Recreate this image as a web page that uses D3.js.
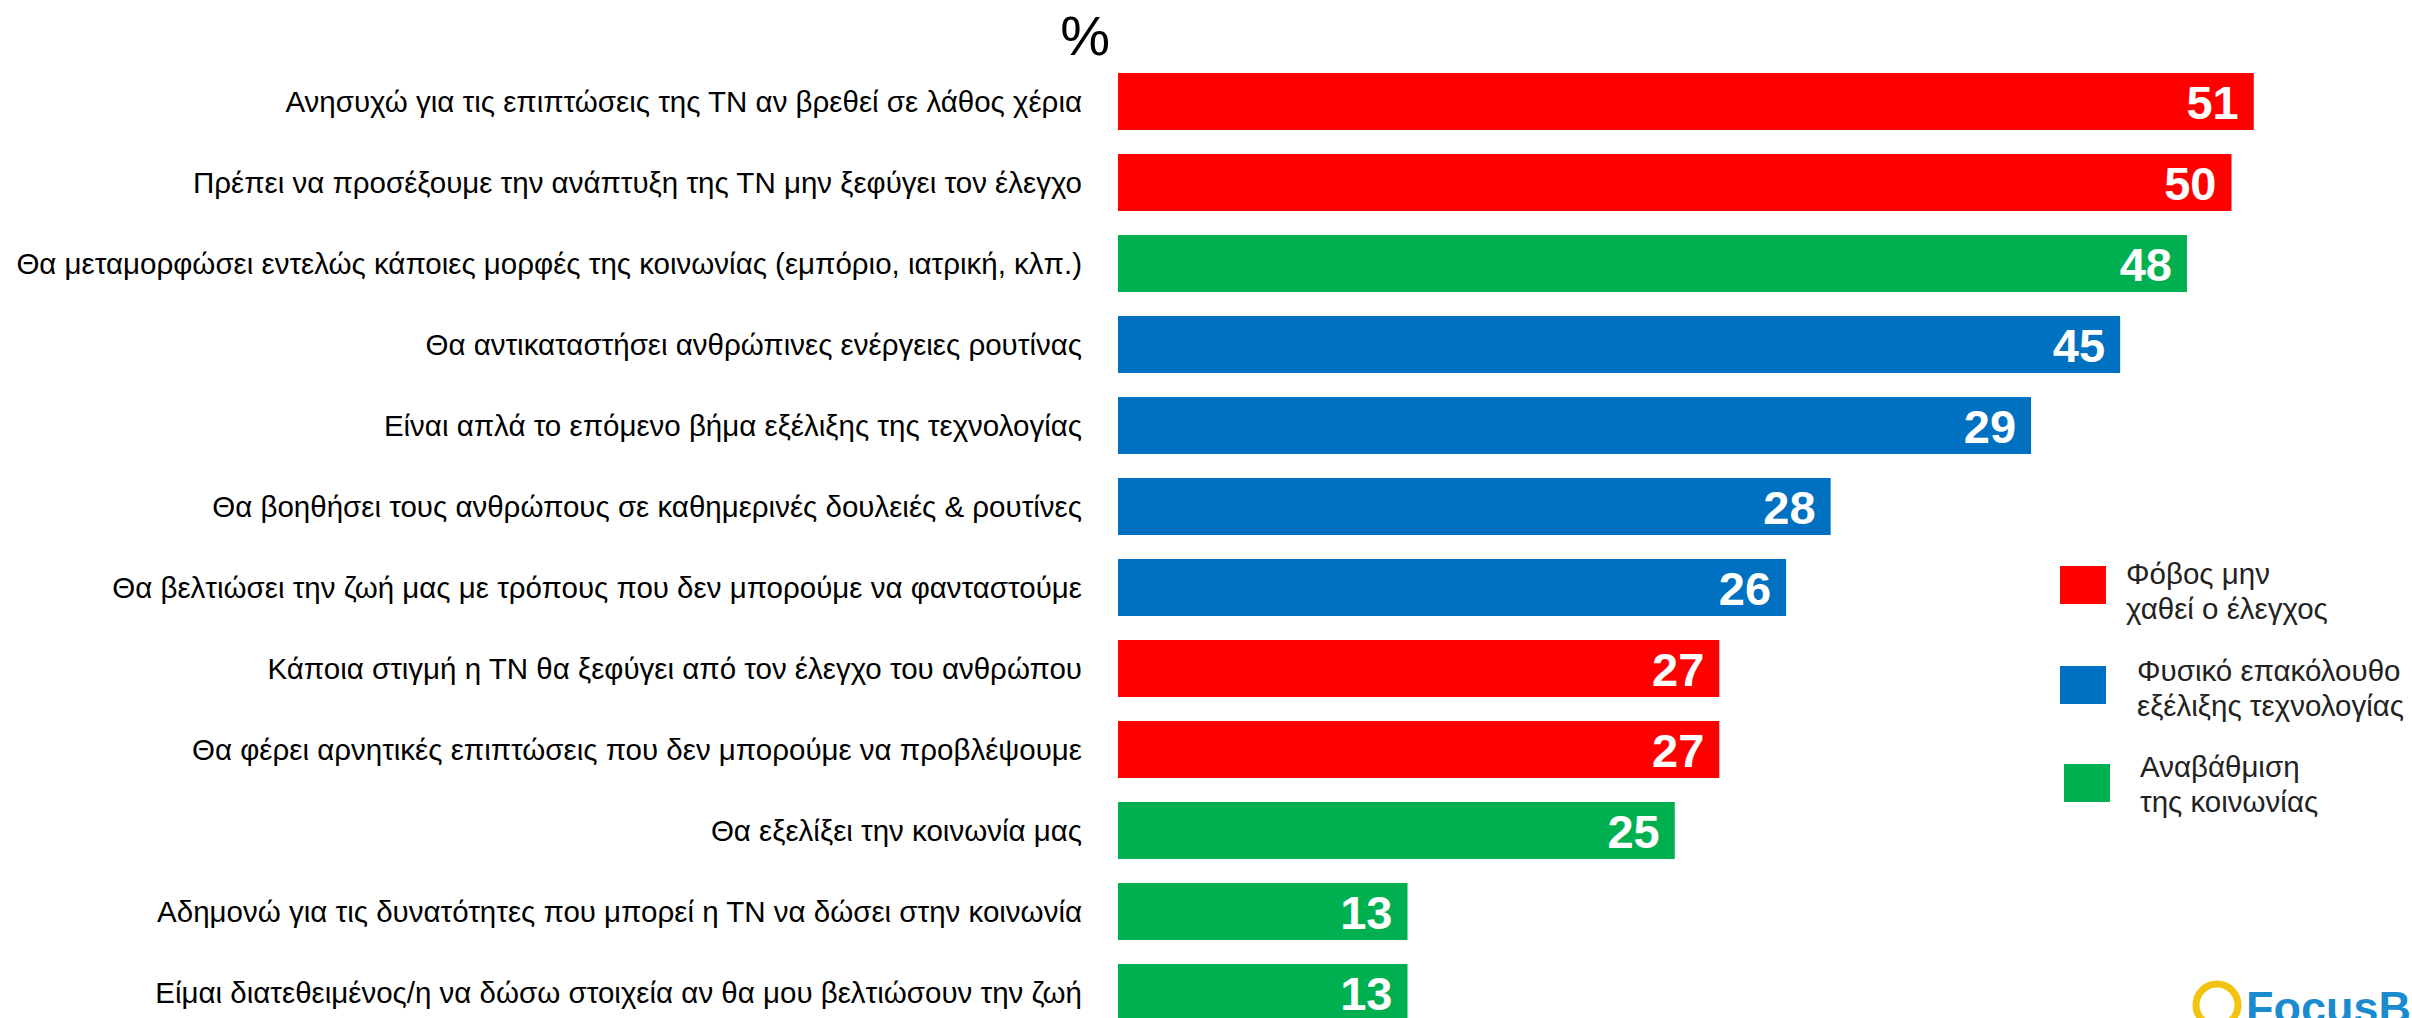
<!DOCTYPE html>
<html>
<head>
<meta charset="utf-8">
<script src="https://cdn.jsdelivr.net/npm/d3@7"></script>
<style>
  html, body { margin: 0; padding: 0; background: #fff; }
  svg { display: block; }
</style>
</head>
<body>
<svg id="chart" width="2412" height="1018"></svg>
<script>
// ---- data ----
const categories = [
  "Ανησυχώ για τις επιπτώσεις της ΤΝ αν βρεθεί σε λάθος χέρια",
  "Πρέπει να προσέξουμε την ανάπτυξη της ΤΝ μην ξεφύγει τον έλεγχο",
  "Θα μεταμορφώσει εντελώς κάποιες μορφές της κοινωνίας (εμπόριο, ιατρική, κλπ.)",
  "Θα αντικαταστήσει ανθρώπινες ενέργειες ρουτίνας",
  "Είναι απλά το επόμενο βήμα εξέλιξης της τεχνολογίας",
  "Θα βοηθήσει τους ανθρώπους σε καθημερινές δουλειές & ρουτίνες",
  "Θα βελτιώσει την ζωή μας με τρόπους που δεν μπορούμε να φανταστούμε",
  "Κάποια στιγμή η ΤΝ θα ξεφύγει από τον έλεγχο του ανθρώπου",
  "Θα φέρει αρνητικές επιπτώσεις που δεν μπορούμε να προβλέψουμε",
  "Θα εξελίξει την κοινωνία μας",
  "Αδημονώ για τις δυνατότητες που μπορεί η ΤΝ να δώσει στην κοινωνία",
  "Είμαι διατεθειμένος/η να δώσω στοιχεία αν θα μου βελτιώσουν την ζωή"
];
// bar lengths as drawn in the picture
const barLengths  = [51, 50, 48, 45, 41, 32, 30, 27, 27, 25, 13, 13];
// numbers printed on the bars
const valueLabels = [51, 50, 48, 45, 29, 28, 26, 27, 27, 25, 13, 13];
const groups = ["fear", "fear", "society", "tech", "tech", "tech", "tech", "fear", "fear", "society", "society", "society"];

const legendKeys  = ["fear", "tech", "society"];
const legendLines = [
  ["Φόβος μην", "χαθεί ο έλεγχος"],
  ["Φυσικό επακόλουθο", "εξέλιξης τεχνολογίας"],
  ["Αναβάθμιση", "της κοινωνίας"]
];
const unitLabel = "%";

// ---- drawing ----
const svg = d3.select("#chart");
const color = d3.scaleOrdinal().domain(["fear", "tech", "society"]).range(["#FF0000", "#0070C0", "#00B050"]);

const x = d3.scaleLinear().domain([0, 100]).range([1118, 1118 + 2227]);
const y = d3.scaleBand().domain(d3.range(categories.length))
  .range([61, 61 + 81 * categories.length])
  .paddingInner(24 / 81).paddingOuter(12 / 81);

const font = "'Liberation Sans', Arial, sans-serif";

svg.append("text")
  .attr("x", 1110).attr("y", 55)
  .attr("text-anchor", "end")
  .attr("font-family", font).attr("font-size", 56)
  .attr("fill", "#000")
  .text(unitLabel);

const rows = svg.append("g").selectAll("g").data(categories).join("g");

rows.append("rect")
  .attr("x", x(0))
  .attr("y", (d, i) => y(i))
  .attr("width", (d, i) => x(barLengths[i]) - x(0))
  .attr("height", y.bandwidth())
  .attr("fill", (d, i) => color(groups[i]));

rows.append("text")
  .attr("x", 1082)
  .attr("y", (d, i) => y(i) + y.bandwidth() / 2 + 10)
  .attr("text-anchor", "end")
  .attr("font-family", font).attr("font-size", 29.5)
  .attr("fill", "#000")
  .text(d => d);

rows.append("text")
  .attr("x", (d, i) => x(barLengths[i]) - 15)
  .attr("y", (d, i) => y(i) + y.bandwidth() / 2 + 17)
  .attr("text-anchor", "end")
  .attr("font-family", font).attr("font-size", 47).attr("font-weight", "bold")
  .attr("fill", "#fff")
  .text((d, i) => valueLabels[i]);

// legend
const legendSquares = [
  {x: 2060, y: 566, tx: 2126, ty: 584},
  {x: 2060, y: 666, tx: 2137, ty: 681},
  {x: 2064, y: 764, tx: 2140, ty: 777}
];
const lg = svg.append("g").selectAll("g").data(legendKeys).join("g");
lg.append("rect")
  .attr("x", (d, i) => legendSquares[i].x)
  .attr("y", (d, i) => legendSquares[i].y)
  .attr("width", 46).attr("height", 38)
  .attr("fill", d => color(d));
lg.each(function(d, i) {
  const t = d3.select(this).append("text")
    .attr("font-family", font).attr("font-size", 29.5)
    .attr("fill", "#222");
  legendLines[i].forEach((line, j) => {
    t.append("tspan")
      .attr("x", legendSquares[i].tx)
      .attr("y", legendSquares[i].ty + j * 35)
      .text(line);
  });
});

// logo fragment (bottom-right, cut off)
svg.append("circle")
  .attr("cx", 2217).attr("cy", 1005).attr("r", 21)
  .attr("fill", "none").attr("stroke", "#F2C40F").attr("stroke-width", 7);
svg.append("text")
  .attr("x", 2246).attr("y", 1023)
  .attr("font-family", font).attr("font-size", 45).attr("font-weight", "bold")
  .attr("fill", "#1B8BD0")
  .text("FocusBari");
</script>
</body>
</html>
